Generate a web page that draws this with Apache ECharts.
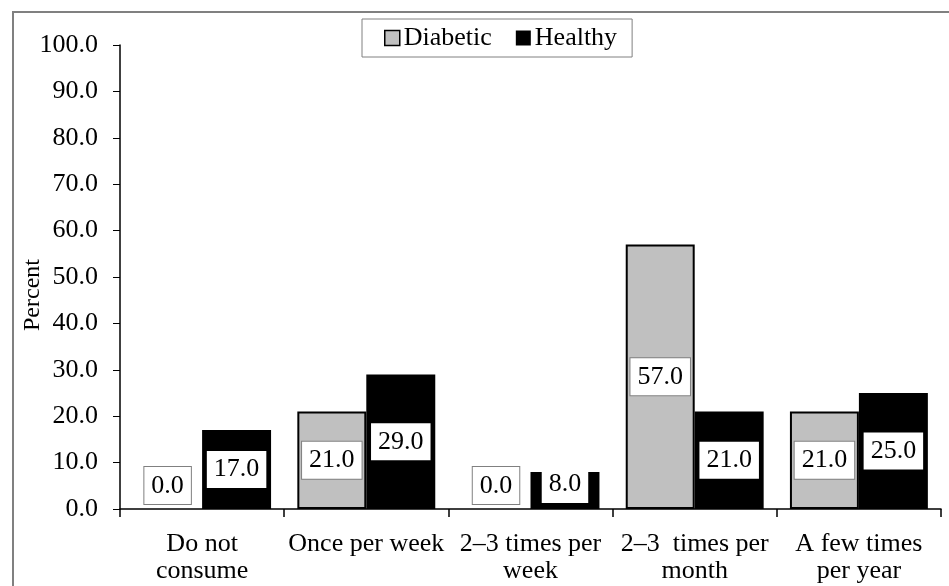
<!DOCTYPE html>
<html>
<head>
<meta charset="utf-8">
<script src="https://cdn.jsdelivr.net/npm/echarts@6/dist/echarts.min.js"></script>
<style>
  html, body { margin: 0; padding: 0; background: #fff; }
  #chart { width: 949px; height: 586px; }
</style>
</head>
<body>
<div id="chart"></div>
<script>
// Consumption frequency by group (percent)
const categories = ['Do not\nconsume', 'Once per week', '2–3 times per\nweek', '2–3  times per\nmonth', 'A few times\nper year'];
const diabetic = [0.0, 21.0, 0.0, 57.0, 21.0];
const healthy = [17.0, 29.0, 8.0, 21.0, 25.0];
const yTicks = [0, 10, 20, 30, 40, 50, 60, 70, 80, 90, 100];

const FONT = "'Liberation Serif', 'Times New Roman', serif";

const labelBase = {
  show: true,
  fontFamily: FONT,
  fontSize: 26,
  lineHeight: 30,
  color: '#000',
  backgroundColor: '#fff',
  padding: [4, 7, 3, 7],
  formatter: p => Number(p.value).toFixed(1)
};

// zero-height bars get no outline and a label just above the baseline;
// short bars get their label nudged up a little
function buildData(values) {
  return values.map(v => {
    if (v === 0) {
      return {
        value: v,
        itemStyle: { borderWidth: 0 },
        label: { position: 'top', distance: 5 }
      };
    }
    if (v < 10) {
      return { value: v, label: { offset: [0, -6] } };
    }
    return { value: v };
  });
}

const chart = echarts.init(document.getElementById('chart'), null, { renderer: 'canvas' });

chart.setOption({
  animation: false,
  backgroundColor: '#fff',
  textStyle: { fontFamily: FONT, color: '#000' },
  graphic: [{
    type: 'rect',
    shape: { x: 13, y: 12, width: 1000, height: 1000 },
    style: { fill: 'none', stroke: '#808080', lineWidth: 2 },
    silent: true,
    z: -1
  }],
  legend: {
    left: 362,
    top: 19,
    padding: [4, 15, 4, 22],
    itemGap: 24,
    itemWidth: 15,
    itemHeight: 15,
    borderColor: '#808080',
    borderWidth: 1,
    icon: 'rect',
    textStyle: { fontFamily: FONT, fontSize: 26, color: '#000', lineHeight: 30, padding: [0, 0, 0, -1] },
    data: [
      { name: 'Diabetic', itemStyle: { color: '#c0c0c0', borderColor: '#000', borderWidth: 1.5 } },
      { name: 'Healthy', itemStyle: { color: '#000' } }
    ]
  },
  grid: { left: 120, right: 8, top: 45, bottom: 77, containLabel: false, outerBoundsMode: 'none' },
  xAxis: {
    type: 'category',
    data: categories,
    boundaryGap: true,
    axisLine: { show: true, lineStyle: { color: '#000', width: 1.5 } },
    axisTick: { show: true, length: 8, lineStyle: { color: '#000', width: 1.5 } },
    axisLabel: {
      interval: 0,
      margin: 22,
      fontFamily: FONT,
      fontSize: 26,
      lineHeight: 27,
      color: '#000'
    },
    splitLine: { show: false }
  },
  yAxis: {
    type: 'value',
    min: yTicks[0],
    max: yTicks[yTicks.length - 1],
    interval: yTicks[1] - yTicks[0],
    name: 'Percent',
    nameLocation: 'middle',
    nameRotate: 90,
    nameGap: 75,
    nameMoveOverlap: false,
    nameTextStyle: { fontFamily: FONT, fontSize: 24, color: '#000', padding: [0, 36, 0, 0] },
    axisLine: { show: true, lineStyle: { color: '#000', width: 1.5 } },
    axisTick: { show: true, length: 7, lineStyle: { color: '#000', width: 1 } },
    axisLabel: {
      margin: 22,
      fontFamily: FONT,
      fontSize: 26,
      color: '#000',
      formatter: v => v.toFixed(1)
    },
    splitLine: { show: false }
  },
  series: [
    {
      name: 'Diabetic',
      type: 'bar',
      data: buildData(diabetic),
      barWidth: '42%',
      barGap: '0%',
      itemStyle: { color: '#c0c0c0', borderColor: '#000', borderWidth: 2 },
      label: Object.assign({}, labelBase, {
        position: 'inside',
        borderColor: '#808080',
        borderWidth: 1
      })
    },
    {
      name: 'Healthy',
      type: 'bar',
      data: buildData(healthy),
      barWidth: '42%',
      barGap: '0%',
      itemStyle: { color: '#000' },
      label: Object.assign({}, labelBase, {
        position: 'inside'
      })
    }
  ]
});
</script>
</body>
</html>
